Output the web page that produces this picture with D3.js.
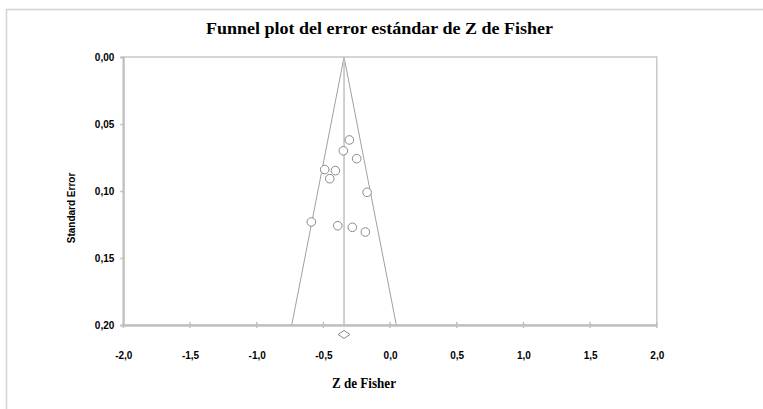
<!DOCTYPE html>
<html><head><meta charset="utf-8">
<script src="https://cdn.jsdelivr.net/npm/d3@7"></script>
<style>body{margin:0;background:#fff}svg{display:block}</style>
</head><body>
<script>
const zValues = [-0.305, -0.350, -0.250, -0.490, -0.410, -0.452, -0.172, -0.590, -0.392, -0.283, -0.185];
const seValues = [0.0619, 0.0700, 0.0759, 0.0840, 0.0848, 0.0908, 0.1010, 0.1231, 0.1259, 0.1271, 0.1306];
const pooledZ = [-0.345];
const xTicks = [-2, -1.5, -1, -0.5, 0, 0.5, 1, 1.5, 2];
const yTicks = [0, 0.05, 0.10, 0.15, 0.20];
const titleText = "Funnel plot del error estándar de Z de Fisher";
const xLabel = "Z de Fisher";
const yLabel = "Standard Error";

const W = 763, H = 409;
const svg = d3.select("body").append("svg").attr("width", W).attr("height", H);
const fmt = d => d3.format(".1f")(d).replace("−", "-").replace(".", ",");
const fmtY = d => d3.format(".2f")(d).replace(".", ",");

// outer border
svg.append("path").attr("d", `M6.5,${H+2}V9.5H${W+2}`).attr("fill","none").attr("stroke","#d4d4d4").attr("stroke-width",1.5);

const x = d3.scaleLinear().domain([-2, 2]).range([123.3, 656.8]);
const y = d3.scaleLinear().domain([0, 0.2]).range([57, 325]);

// plot frame
svg.append("rect").attr("x", x(-2)).attr("y", y(0)).attr("width", x(2)-x(-2)).attr("height", y(0.2)-y(0))
  .attr("fill","none").attr("stroke","#c8c8c8").attr("stroke-width",1.5);

// funnel
const m = pooledZ[0];
const seMax = 0.2;
svg.append("path")
  .attr("d", d3.line()([[x(m - 1.96*seMax), y(seMax)], [x(m), y(0)], [x(m + 1.96*seMax), y(seMax)]]))
  .attr("fill","none").attr("stroke","#a0a0a0").attr("stroke-width",1);
svg.append("line").attr("x1", x(m)).attr("x2", x(m)).attr("y1", y(0)).attr("y2", y(seMax))
  .attr("stroke","#c0c0c0").attr("stroke-width",1.5);

// axes
const xAxis = svg.append("g").attr("transform", `translate(0,${y(0.2)})`)
  .call(d3.axisBottom(x).tickValues(xTicks).tickFormat(fmt).tickSize(0).tickPadding(27));
xAxis.select(".domain").attr("stroke","#c0c0c0").attr("stroke-width",2.5);
xAxis.selectAll("text").attr("font-family","Liberation Sans, Arial").attr("font-weight","bold").attr("font-size",10).attr("fill","#000");
svg.append("g").selectAll("line").data(xTicks).join("line")
  .attr("x1", d => x(d)).attr("x2", d => x(d)).attr("y1", y(0.2)-3).attr("y2", y(0.2)+3)
  .attr("stroke","#c0c0c0").attr("stroke-width",1.5);

const yAxis = svg.append("g").attr("transform", `translate(${x(-2)},0)`)
  .call(d3.axisLeft(y).tickValues(yTicks).tickFormat(fmtY).tickSize(3).tickPadding(6));
yAxis.select(".domain").attr("stroke","#c0c0c0").attr("stroke-width",2);
yAxis.selectAll(".tick line").attr("stroke","#c0c0c0").attr("stroke-width",1.5);
yAxis.selectAll("text").attr("font-family","Liberation Sans, Arial").attr("font-weight","bold").attr("font-size",10).attr("fill","#000");

// points
svg.append("g").selectAll("circle").data(zValues.map((z,i)=>({z, se: seValues[i]}))).join("circle")
  .attr("cx", d => x(d.z)).attr("cy", d => y(d.se)).attr("r", 4.3)
  .attr("fill","#fff").attr("stroke","#8a8a8a").attr("stroke-width",1);

// pooled diamond
const dy = y(0.2) + 9.5;
svg.append("path")
  .attr("d", `M${x(m)-6},${dy}L${x(m)},${dy-4}L${x(m)+6},${dy}L${x(m)},${dy+4}Z`)
  .attr("fill","#fff").attr("stroke","#8a8a8a").attr("stroke-width",1);

// titles
svg.append("text").attr("x", 379.5).attr("y", 34).attr("text-anchor","middle")
  .attr("font-family","'Liberation Serif', 'Times New Roman', serif").attr("font-weight","bold").attr("font-size",17.5)
  .attr("textLength", 347).attr("lengthAdjust","spacingAndGlyphs").text(titleText);
svg.append("text").attr("x", 364).attr("y", 388).attr("text-anchor","middle")
  .attr("font-family","'Liberation Serif', 'Times New Roman', serif").attr("font-weight","bold").attr("font-size",15)
  .attr("textLength", 64).attr("lengthAdjust","spacingAndGlyphs").text(xLabel);
svg.append("text").attr("transform","translate(74.5,208) rotate(-90)").attr("text-anchor","middle")
  .attr("font-family","Liberation Sans, Arial").attr("font-weight","bold").attr("font-size",10)
  .text(yLabel);
</script>
</body></html>
